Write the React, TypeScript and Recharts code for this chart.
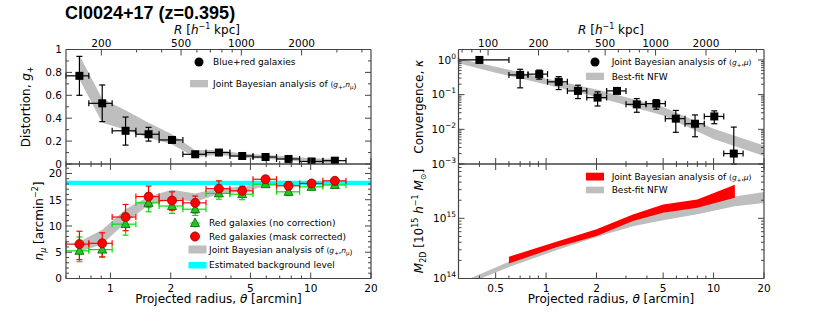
import React from "react";
import { Area, ComposedChart, ErrorBar, Scatter, XAxis, YAxis } from "recharts";

const W = 830;
const H = 328;
const KPC_PER_ARCMIN = 222;

// radial bins in arcmin
const thetaBins = [0.7, 0.91, 1.19, 1.55, 2.03, 2.65, 3.48, 4.55, 5.95, 7.75, 10.1, 13.2];
const binEdges = [0.6, 0.78, 1.02, 1.34, 1.75, 2.3, 3.0, 3.95, 5.15, 6.75, 8.8, 11.5, 15.0];
const thetaBinsK = [0.4, ...thetaBins];
const binEdgesK = [0.3, ...binEdges];

// tangential distortion g+
const gPlus = [0.77, 0.53, 0.29, 0.26, 0.21, 0.085, 0.1, 0.07, 0.061, 0.044, 0.022, 0.029];
const gPlusLo = [0.6, 0.37, 0.165, 0.2, 0.19, 0.07, 0.085, 0.055, 0.046, 0.03, 0.01, 0.018];
const gPlusHi = [0.94, 0.69, 0.41, 0.32, 0.23, 0.1, 0.115, 0.085, 0.076, 0.058, 0.034, 0.04];
const gBandLo = [0.74, 0.36, 0.3, 0.23, 0.17, 0.06, 0.08, 0.055, 0.045, 0.03, 0.012, 0.012];
const gBandHi = [0.95, 0.57, 0.47, 0.36, 0.26, 0.12, 0.125, 0.09, 0.08, 0.065, 0.05, 0.045];

// red galaxy counts n_mu
const nRaw = [5.26, 5.5, 10.35, 14.4, 13.8, 13.2, 16.2, 16.05, 17.95, 16.5, 17.45, 17.8];
const nRawLo = [3.2, 4.1, 8.25, 12.7, 12.4, 12.0, 15.1, 15.0, 17.5, 15.8, 16.9, 17.4];
const nRawHi = [7.9, 7.3, 12.4, 16.2, 15.2, 14.5, 17.1, 16.6, 18.4, 17.1, 18.1, 18.2];
const nMask = [6.55, 6.7, 11.7, 15.6, 14.85, 14.4, 17.1, 16.7, 18.9, 17.65, 18.1, 18.6];
const nMaskLo = [3.6, 4.1, 9.1, 13.6, 13.0, 12.5, 15.9, 15.9, 18.2, 17.0, 17.5, 18.0];
const nMaskHi = [9.0, 8.7, 14.1, 17.6, 16.5, 15.7, 18.6, 17.6, 19.5, 18.4, 18.6, 19.0];
const nBandLo = [5.1, 6.5, 10.6, 14.0, 15.2, 14.6, 16.1, 16.5, 17.6, 17.7, 17.8, 17.9];
const nBandHi = [7.0, 9.3, 13.2, 15.6, 16.9, 16.2, 17.2, 17.5, 18.4, 18.3, 18.3, 18.4];
const bgTheta = [0.6, 20];
const bgLevel = 18.2;
const bgErr = 0.4;

// convergence kappa
const kappa = [1.0, 0.37, 0.39, 0.234, 0.128, 0.082, 0.128, 0.0525, 0.055, 0.0203, 0.0145, 0.0235, 0.002];
const kappaLo = [0.93, 0.157, 0.28, 0.14, 0.077, 0.047, 0.11, 0.031, 0.038, 0.0082, 0.0061, 0.0145, 0.001];
const kappaHi = [1.07, 0.537, 0.51, 0.33, 0.187, 0.12, 0.145, 0.077, 0.072, 0.035, 0.026, 0.034, 0.0116];
const nfwKTheta = [0.3, 0.5, 1, 2, 5, 10, 20];
const nfwKLo = [0.8, 0.43, 0.197, 0.086, 0.025, 0.0053, 0.0017];
const nfwKHi = [1.1, 0.64, 0.29, 0.14, 0.044, 0.0103, 0.0034];

// projected mass M2D
const massTheta = [0.6, 1.15, 2.0, 3.3, 5.0, 8.0, 13.4];
const massLo = [1.78e14, 3.3e14, 5.1e14, 9.0e14, 1.24e15, 1.5e15, 2.2e15];
const massHi = [2.3e14, 4.1e14, 6.6e14, 1.16e15, 1.7e15, 2.05e15, 3.6e15];
const nfwMTheta = [0.3, 0.6, 1.15, 2.0, 3.3, 5.0, 8.0, 13.4, 20];
const nfwMLo = [0.7e14, 1.55e14, 2.95e14, 4.9e14, 7.4e14, 9.3e14, 1.17e15, 1.59e15, 1.8e15];
const nfwMHi = [0.83e14, 1.9e14, 3.7e14, 6.0e14, 9.6e14, 1.24e15, 1.59e15, 2.3e15, 2.75e15];

// labelled ticks
const thetaLabelsL = [1, 2, 5, 10, 20];
const thetaLabelsR = [0.5, 1, 2, 5, 10, 20];
const kpcLabelsL = [200, 500, 1000, 2000];
const kpcLabelsR = [100, 200, 500, 1000, 2000];
const gLabels = [0, 0.2, 0.4, 0.6, 0.8, 1];
const nLabels = [0, 5, 10, 15, 20];
const kappaLabels = [1e-3, 1e-2, 1e-1, 1];
const massLabels = [1e14, 1e15];

const logTicks = (lo: number, hi: number) => {
  const out: number[] = [];
  for (let e = Math.floor(Math.log10(lo)); e <= Math.ceil(Math.log10(hi)); e++) {
    for (let k = 1; k < 10; k++) {
      const v = +(k * Math.pow(10, e)).toPrecision(6);
      if (v >= lo * 0.9999 && v <= hi * 1.0001) out.push(v);
    }
  }
  return out;
};
const linTicks = (lo: number, hi: number, step: number) => {
  const out: number[] = [];
  for (let v = lo; v <= hi + 1e-9; v += step) out.push(+v.toFixed(6));
  return out;
};

const pointRows = (t: number[], edges: number[], v: number[], lo: number[], hi: number[]) =>
  t.map((x, i) => ({
    t: x,
    v: v[i],
    ex: [x - edges[i], edges[i + 1] - x],
    ey: [v[i] - lo[i], hi[i] - v[i]],
  }));
const bandRows = (t: number[], lo: number[], hi: number[]) =>
  t.map((x, i) => ({ t: x, r: [lo[i], hi[i]] }));

const FONT = "DejaVu Sans";
const AXIS = "#444";

const isIn = (arr: number[], v: number) =>
  arr.some((m) => Math.abs(m - v) <= Math.abs(m) * 1e-6 + 1e-12);

const fmtPlain = (v: number) => (v === 0 ? "0" : v === 1 ? "1" : String(v));
const fmtKpc = (v: number) => String(Math.round(v * KPC_PER_ARCMIN));
const fmtPow = (v: number) => {
  const e = Math.round(Math.log10(v));
  return [
    <tspan key="b">10</tspan>,
    <tspan key="e" dy={-5} fontSize={7.5}>
      {e < 0 ? "\u2212" + -e : String(e)}
    </tspan>,
  ];
};

type Side = "bottom" | "top" | "left" | "right";
const makeTick =
  (side: Side, labeled: number[], fmt?: (v: number) => React.ReactNode, gap = 4) =>
  (p: any) => {
    const { x, y } = p;
    const v = p.payload.value as number;
    const major = isIn(labeled, v);
    const len = major ? 6 : 3;
    const dx = side === "left" ? len : side === "right" ? -len : 0;
    const dy = side === "bottom" ? -len : side === "top" ? len : 0;
    let label: React.ReactNode = null;
    if (fmt && major) {
      const common = { fontFamily: FONT, fontSize: 10.5, fill: "#000" };
      if (side === "bottom")
        label = <text x={x} y={y + 13} textAnchor="middle" {...common}>{fmt(v)}</text>;
      else if (side === "top")
        label = <text x={x} y={y - 2.8} textAnchor="middle" {...common}>{fmt(v)}</text>;
      else if (side === "left")
        label = <text x={x - gap} y={y + 3.8} textAnchor="end" {...common}>{fmt(v)}</text>;
    }
    return (
      <g>
        <line x1={x} y1={y} x2={x + dx} y2={y + dy} stroke={AXIS} strokeWidth={1} />
        {label}
      </g>
    );
  };

type Box = { l: number; r: number };
type VBox = { t: number; b: number };
const LEFT: Box = { l: 66, r: 371 };
const RIGHT: Box = { l: 458.5, r: 764 };
const TOP: VBox = { t: 49.5, b: 164 };
const BOT: VBox = { t: 164, b: 278.5 };

type PanelProps = {
  hx: Box;
  vy: VBox;
  xDomain: [number, number];
  xLabels: number[];
  showX: boolean;
  kpc?: number[];
  yDomain: [number, number];
  yLog: boolean;
  yTicks: number[];
  yLabels: number[];
  yFmt: (v: number) => React.ReactNode;
  yGap?: number;
  children: React.ReactNode;
};

// the bands are drawn on the top/right axes (same scales as bottom/left),
// so that every axis carries data and gets its ticks
function Panel(props: PanelProps) {
  const { hx, vy, xDomain, xLabels, showX, kpc, yDomain, yLog, yTicks, yLabels, yFmt, yGap, children } = props;
  const margin = { left: hx.l - 40, right: W - hx.r - 10, top: vy.t - 20, bottom: H - vy.b - 20 };
  const xTicks = logTicks(xDomain[0], xDomain[1]);
  const topTicks = kpc
    ? logTicks(xDomain[0] * KPC_PER_ARCMIN, xDomain[1] * KPC_PER_ARCMIN).map((k) => k / KPC_PER_ARCMIN)
    : xTicks;
  const topLabels = kpc ? kpc.map((k) => k / KPC_PER_ARCMIN) : xLabels;
  const axisLine = { stroke: AXIS, strokeWidth: 1.2 };
  const common = { tickLine: false, tickSize: 0, tickMargin: 0, interval: 0 as const, allowDataOverflow: true, axisLine };
  return (
    <div style={{ position: "absolute", left: 0, top: 0 }}>
      <ComposedChart width={W} height={H} margin={margin}>
        <XAxis
          xAxisId="b"
          dataKey="t"
          type="number"
          scale="log"
          domain={xDomain}
          ticks={xTicks}
          height={20}
          {...common}
          tick={makeTick("bottom", xLabels, showX ? fmtPlain : undefined)}
        />
        <XAxis
          xAxisId="t"
          dataKey="t"
          orientation="top"
          type="number"
          scale="log"
          domain={xDomain}
          ticks={topTicks}
          height={20}
          {...common}
          tick={makeTick("top", topLabels, kpc ? fmtKpc : undefined)}
        />
        <YAxis
          yAxisId="l"
          type="number"
          scale={yLog ? "log" : "linear"}
          domain={yDomain}
          ticks={yTicks}
          width={40}
          {...common}
          tick={makeTick("left", yLabels, yFmt, yGap)}
        />
        <YAxis
          yAxisId="r"
          orientation="right"
          type="number"
          scale={yLog ? "log" : "linear"}
          domain={yDomain}
          ticks={yTicks}
          width={10}
          {...common}
          tick={makeTick("right", yLabels)}
        />
        {children}
      </ComposedChart>
    </div>
  );
}

const Square = (p: any) => <rect x={p.cx - 4} y={p.cy - 4} width={8} height={8} fill="#000" />;
const RedDot = (p: any) => (
  <circle cx={p.cx} cy={p.cy} r={4.5} fill="#ff0000" stroke="#9a0000" strokeWidth={0.8} />
);
const GreenTri = (p: any) => (
  <polygon
    points={`${p.cx},${p.cy - 5} ${p.cx - 4.5},${p.cy + 3.5} ${p.cx + 4.5},${p.cy + 3.5}`}
    fill="#22c322"
    stroke="#006400"
    strokeWidth={0.8}
  />
);

const GRAY = "#bebebe";

const gRows = pointRows(thetaBins, binEdges, gPlus, gPlusLo, gPlusHi);
const gBand = bandRows(thetaBins, gBandLo, gBandHi);
const rawRows = pointRows(thetaBins, binEdges, nRaw, nRawLo, nRawHi);
const maskRows = pointRows(thetaBins, binEdges, nMask, nMaskLo, nMaskHi);
const nBand = bandRows(thetaBins, nBandLo, nBandHi);
const bgBand = bgTheta.map((t) => ({ t, r: [bgLevel - bgErr, bgLevel + bgErr] }));
const kRows = pointRows(thetaBinsK, binEdgesK, kappa, kappaLo, kappaHi);
const kBand = bandRows(nfwKTheta, nfwKLo, nfwKHi);
const mBand = bandRows(massTheta, massLo, massHi);
const mNfw = bandRows(nfwMTheta, nfwMLo, nfwMHi);

const band = (data: any[], fill: string, key: string, onAux = true) => (
  <Area
    key={key}
    xAxisId={onAux ? "t" : "b"}
    yAxisId={onAux ? "r" : "l"}
    data={data}
    dataKey="r"
    type="linear"
    stroke="none"
    fill={fill}
    fillOpacity={1}
    dot={false}
    activeDot={false}
    isAnimationActive={false}
  />
);

const points = (data: any[], shape: any, color: string, key: string) => (
  <Scatter key={key} xAxisId="b" yAxisId="l" data={data} dataKey="v" shape={shape} isAnimationActive={false}>
    <ErrorBar dataKey="ey" direction="y" width={3} stroke={color} strokeWidth={1.2} />
    <ErrorBar dataKey="ex" direction="x" width={3} stroke={color} strokeWidth={1.2} />
  </Scatter>
);

const T = { fontFamily: FONT, fill: "#000" };

function Overlay() {
  const mathSmall = 7.5;
  const subMath = (a: string, b: string) => [
    <tspan key={a + "1"} fontStyle="italic" fontSize={mathSmall}>{a}</tspan>,
    <tspan key={a + "2"} fontSize={5.5} dy={1.5}>{b}</tspan>,
  ];
  const legendMath = (second: React.ReactNode) => (
    <>
      <tspan fontSize={mathSmall}>(</tspan>
      {subMath("g", "+")}
      <tspan fontSize={mathSmall} dy={-1.5}>,</tspan>
      {second}
      <tspan fontSize={mathSmall}>)</tspan>
    </>
  );
  return (
    <svg width={W} height={H} style={{ position: "absolute", left: 0, top: 0, pointerEvents: "none" }}>
      <text x={65} y={18.5} fontFamily="Liberation Sans" fontWeight="bold" fontSize={18} fill="#000">
        Cl0024+17 (z=0.395)
      </text>

      {/* top axis titles */}
      {[207, 611].map((cx) => (
        <text key={cx} x={cx} y={34} textAnchor="middle" fontSize={12} {...T}>
          <tspan fontStyle="italic">R</tspan>
          <tspan> [</tspan>
          <tspan fontStyle="italic">h</tspan>
          <tspan dy={-5} fontSize={8}>{"\u22121"}</tspan>
          <tspan dy={5}> kpc]</tspan>
        </text>
      ))}
      {/* bottom axis titles */}
      {[218.5, 611].map((cx) => (
        <text key={cx} x={cx} y={303} textAnchor="middle" fontSize={12} {...T}>
          Projected radius, <tspan fontStyle="italic">θ</tspan> [arcmin]
        </text>
      ))}

      {/* y titles */}
      <text transform="translate(30,106.75) rotate(-90)" textAnchor="middle" fontSize={12} {...T}>
        Distortion, <tspan fontStyle="italic">g</tspan>
        <tspan fontSize={8} dy={3}>+</tspan>
      </text>
      <text transform="translate(42.5,221) rotate(-90)" textAnchor="middle" fontSize={12} {...T}>
        <tspan fontStyle="italic">n</tspan>
        <tspan fontStyle="italic" fontSize={8} dy={3}>μ</tspan>
        <tspan dy={-3}> [arcmin</tspan>
        <tspan dy={-5} fontSize={8}>{"\u22122"}</tspan>
        <tspan dy={5}>]</tspan>
      </text>
      <text transform="translate(423,106.75) rotate(-90)" textAnchor="middle" fontSize={12} {...T}>
        Convergence, <tspan fontStyle="italic">κ</tspan>
      </text>
      <text transform="translate(423,221) rotate(-90)" textAnchor="middle" fontSize={12} {...T}>
        <tspan fontStyle="italic">M</tspan>
        <tspan fontSize={8} dy={3}>2D</tspan>
        <tspan dy={-3}> [10</tspan>
        <tspan dy={-5} fontSize={8}>15</tspan>
        <tspan dy={5}> </tspan>
        <tspan fontStyle="italic">h</tspan>
        <tspan dy={-5} fontSize={8}>{"\u22121"}</tspan>
        <tspan dy={5}> </tspan>
        <tspan fontStyle="italic">M</tspan>
        <tspan fontSize={8} dy={3}>⊙</tspan>
        <tspan dy={-3}>]</tspan>
      </text>

      {/* legend: distortion */}
      <circle cx={199} cy={62} r={4.5} fill="#000" />
      <text x={213} y={65} fontSize={9} {...T}>Blue+red galaxies</text>
      <rect x={190} y={80} width={18} height={7.3} fill={GRAY} />
      <text x={213} y={87.3} fontSize={9} {...T}>
        Joint Bayesian analysis of {legendMath(subMath("n", "μ"))}
      </text>

      {/* legend: counts */}
      <line x1={190} x2={200} y1={223} y2={223} stroke="#00ee00" />
      <line x1={195} x2={195} y1={218} y2={228} stroke="#00ee00" />
      <GreenTri cx={195} cy={223} />
      <text x={209} y={226} fontSize={9} {...T}>Red galaxies (no correction)</text>
      <line x1={190} x2={200} y1={236.5} y2={236.5} stroke="#ff0000" />
      <line x1={195} x2={195} y1={231.5} y2={241.5} stroke="#ff0000" />
      <RedDot cx={195} cy={236.5} />
      <text x={209} y={239.5} fontSize={9} {...T}>Red galaxies (mask corrected)</text>
      <rect x={188.5} y={245.5} width={18} height={8} fill={GRAY} />
      <text x={209} y={253} fontSize={9} {...T}>
        Joint Bayesian analysis of {legendMath(subMath("n", "μ"))}
      </text>
      <rect x={188.5} y={262} width={18} height={6.5} fill="#00ffff" />
      <text x={209} y={267.5} fontSize={9} {...T}>Estimated background level</text>

      {/* legend: convergence */}
      <circle cx={595} cy={62} r={4.5} fill="#000" />
      <text x={611.7} y={65} fontSize={9} {...T}>
        Joint Bayesian analysis of {legendMath(<tspan fontStyle="italic" fontSize={mathSmall}>μ</tspan>)}
      </text>
      <rect x={586} y={72.7} width={18} height={7.3} fill={GRAY} />
      <text x={611.7} y={79.5} fontSize={9} {...T}>Best-fit NFW</text>

      {/* legend: mass */}
      <rect x={586} y={172.7} width={18} height={7.8} fill="#ff0000" />
      <text x={611.7} y={180} fontSize={9} {...T}>
        Joint Bayesian analysis of {legendMath(<tspan fontStyle="italic" fontSize={mathSmall}>μ</tspan>)}
      </text>
      <rect x={586} y={186.7} width={18} height={6.6} fill={GRAY} />
      <text x={611.7} y={193.3} fontSize={9} {...T}>Best-fit NFW</text>
    </svg>
  );
}

export default function App() {
  return (
    <div style={{ position: "absolute", left: 0, top: 0, width: W, height: H, background: "#fff" }}>
      <Panel
        hx={LEFT}
        vy={TOP}
        xDomain={[0.6, 20]}
        xLabels={thetaLabelsL}
        showX={false}
        kpc={kpcLabelsL}
        yDomain={[0, 1]}
        yLog={false}
        yTicks={linTicks(0, 1, 0.1)}
        yLabels={gLabels}
        yFmt={fmtPlain}
      >
        {band(gBand, GRAY, "gband")}
        {points(gRows, Square, "#000", "g")}
      </Panel>
      <Panel
        hx={LEFT}
        vy={BOT}
        xDomain={[0.6, 20]}
        xLabels={thetaLabelsL}
        showX={true}
        yDomain={[0, 21.8]}
        yLog={false}
        yTicks={linTicks(0, 21, 1)}
        yLabels={nLabels}
        yFmt={fmtPlain}
      >
        {band(nBand, GRAY, "nband")}
        {band(bgBand, "#00ffff", "bg")}
        {points(rawRows, GreenTri, "#00e000", "raw")}
        {points(maskRows, RedDot, "#ff0000", "mask")}
      </Panel>
      <Panel
        hx={RIGHT}
        vy={TOP}
        xDomain={[0.3, 20]}
        xLabels={thetaLabelsR}
        showX={false}
        kpc={kpcLabelsR}
        yDomain={[1e-3, 2]}
        yLog={true}
        yTicks={logTicks(1e-3, 2)}
        yLabels={kappaLabels}
        yFmt={fmtPow}
        yGap={2.5}
      >
        {band(kBand, GRAY, "kband")}
        {points(kRows, Square, "#000", "k")}
      </Panel>
      <Panel
        hx={RIGHT}
        vy={BOT}
        xDomain={[0.3, 20]}
        xLabels={thetaLabelsR}
        showX={true}
        yDomain={[1e14, 8e15]}
        yLog={true}
        yTicks={logTicks(1e14, 8e15)}
        yLabels={massLabels}
        yFmt={fmtPow}
        yGap={2.5}
      >
        {band(mNfw, GRAY, "mnfw")}
        {band(mBand, "#ff0000", "mband", false)}
      </Panel>
      <Overlay />
    </div>
  );
}
